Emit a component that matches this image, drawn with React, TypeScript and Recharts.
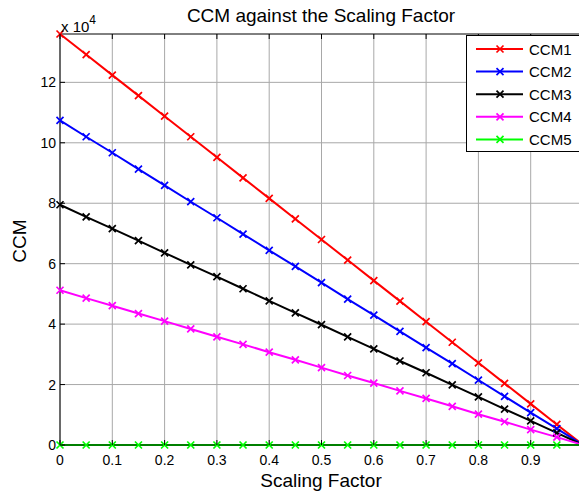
import React from 'react';
import { LineChart, Line, XAxis, YAxis, CartesianGrid, Legend, ReferenceLine } from 'recharts';

const scaling = [0, 0.05, 0.1, 0.15, 0.2, 0.25, 0.3, 0.35, 0.4, 0.45, 0.5, 0.55, 0.6, 0.65, 0.7, 0.75, 0.8, 0.85, 0.9, 0.95, 1];
const ccm1 = [136000, 129200, 122400, 115600, 108800, 102000, 95200, 88400, 81600, 74800, 68000, 61200, 54400, 47600, 40800, 34000, 27200, 20400, 13600, 6800, 0];
const ccm2 = [107400, 102000, 96700, 91300, 85900, 80500, 75200, 69800, 64400, 59100, 53700, 48300, 43000, 37600, 32200, 26900, 21500, 16100, 10700, 5400, 0];
const ccm3 = [79500, 75500, 71600, 67600, 63600, 59600, 55700, 51700, 47700, 43700, 39800, 35800, 31800, 27800, 23900, 19900, 15900, 11900, 8000, 4000, 0];
const ccm4 = [51200, 48600, 46100, 43500, 41000, 38400, 35800, 33300, 30700, 28200, 25600, 23000, 20500, 17900, 15400, 12800, 10200, 7700, 5100, 2600, 0];
const ccm5 = [0, 0, 0, 0, 0, 0, 0, 0, 0, 0, 0, 0, 0, 0, 0, 0, 0, 0, 0, 0, 0];

const xTicks = [0, 0.1, 0.2, 0.3, 0.4, 0.5, 0.6, 0.7, 0.8, 0.9, 1];
const yTicks = [0, 20000, 40000, 60000, 80000, 100000, 120000];
const yMax = 136000;

const series = [
  { key: 'ccm1', name: 'CCM1', color: '#ff0000', values: ccm1 },
  { key: 'ccm2', name: 'CCM2', color: '#0000ff', values: ccm2 },
  { key: 'ccm3', name: 'CCM3', color: '#000000', values: ccm3 },
  { key: 'ccm4', name: 'CCM4', color: '#ff00ff', values: ccm4 },
  { key: 'ccm5', name: 'CCM5', color: '#00ff00', values: ccm5 },
];

const data = scaling.map((s, i) => {
  const row: any = { s };
  series.forEach((sr) => { row[sr.key] = sr.values[i]; });
  return row;
});

const FONT = '"Liberation Sans", Arial, sans-serif';
const PLOT_TOP = 34;
const PLOT_BOTTOM = 445;
const PLOT_LEFT = 60;

function Cross({ cx, cy, stroke }: any) {
  if (cx == null || cy == null) return null;
  const r = 3.5;
  return (
    <path
      d={`M${cx - r},${cy - r}L${cx + r},${cy + r}M${cx - r},${cy + r}L${cx + r},${cy - r}`}
      stroke={stroke}
      strokeWidth={1.7}
      fill="none"
    />
  );
}

function XTick({ x, payload }: any) {
  // the tick at 1 sits past the right edge of the picture, so its label is left out
  return (
    <g>
      <line x1={x} x2={x} y1={PLOT_BOTTOM} y2={PLOT_BOTTOM - 5} stroke="#000" />
      <line x1={x} x2={x} y1={PLOT_TOP} y2={PLOT_TOP + 5} stroke="#000" />
      {payload.value < 1 && (
        <text x={x} y={PLOT_BOTTOM + 20} textAnchor="middle" fontSize={14} fontFamily={FONT} fill="#000">
          {payload.value}
        </text>
      )}
    </g>
  );
}

function YTick({ y, payload }: any) {
  return (
    <g>
      <line x1={PLOT_LEFT} x2={PLOT_LEFT + 5} y1={y} y2={y} stroke="#000" />
      <text x={PLOT_LEFT - 4} y={y + 5} textAnchor="end" fontSize={14} fontFamily={FONT} fill="#000">
        {payload.value / 10000}
      </text>
    </g>
  );
}

function LegendBox() {
  return (
    <svg width={130} height={118} style={{ display: 'block' }}>
      <rect x={0.5} y={0.5} width={128} height={116} fill="#fff" stroke="#000" />
      {series.map((sr, i) => {
        const cy = 14 + i * 22.6;
        return (
          <g key={sr.key}>
            <line x1={10} x2={57} y1={cy} y2={cy} stroke={sr.color} strokeWidth={2} />
            <Cross cx={34} cy={cy} stroke={sr.color} />
            <text x={63} y={cy + 5.5} fontSize={15} fontFamily={FONT} fill="#000">{sr.name}</text>
          </g>
        );
      })}
    </svg>
  );
}

export default function App() {
  return (
    <div style={{ position: 'fixed', left: 0, top: 0, width: 579, height: 495, overflow: 'hidden', background: '#fff', fontFamily: FONT }}>
      <LineChart width={600} height={495} data={data} margin={{ top: PLOT_TOP, right: 17, bottom: 0, left: 0 }}>
        <CartesianGrid stroke="#a8a8a8" strokeWidth={1} verticalValues={xTicks} horizontalValues={yTicks} />
        <XAxis
          dataKey="s"
          type="number"
          domain={[0, 1]}
          ticks={xTicks}
          height={50}
          axisLine={{ stroke: '#000' }}
          tickLine={false}
          tick={<XTick />}
        />
        <YAxis
          type="number"
          domain={[0, yMax]}
          ticks={yTicks}
          width={PLOT_LEFT}
          axisLine={{ stroke: '#000' }}
          tickLine={false}
          tick={<YTick />}
        />
        <ReferenceLine y={yMax} stroke="#000" />
        {series.map((sr) => (
          <Line
            key={sr.key}
            dataKey={sr.key}
            name={sr.name}
            stroke={sr.color}
            strokeWidth={2}
            type="linear"
            dot={<Cross />}
            isAnimationActive={false}
          />
        ))}
        <Legend
          layout="vertical"
          align="center"
          verticalAlign="middle"
          wrapperStyle={{ left: 466, top: 35, width: 130 }}
          content={() => <LegendBox />}
        />
      </LineChart>
      <div style={{ position: 'absolute', left: 0, top: 5, width: 642, textAlign: 'center', fontSize: 19, lineHeight: '22px', color: '#000' }}>
        CCM against the Scaling Factor
      </div>
      <div style={{ position: 'absolute', left: 61, top: 14, fontSize: 15, lineHeight: '16px', color: '#000', whiteSpace: 'nowrap' }}>
        x 10<sup style={{ fontSize: 12, position: 'relative', top: -2 }}>4</sup>
      </div>
      <div style={{ position: 'absolute', left: 0, top: 470, width: 642, textAlign: 'center', fontSize: 19, lineHeight: '22px', color: '#000' }}>
        Scaling Factor
      </div>
      <div style={{ position: 'absolute', left: 20, top: 241, transform: 'translate(-50%, -50%) rotate(-90deg)', fontSize: 19, lineHeight: '22px', color: '#000', whiteSpace: 'nowrap' }}>
        CCM
      </div>
    </div>
  );
}
